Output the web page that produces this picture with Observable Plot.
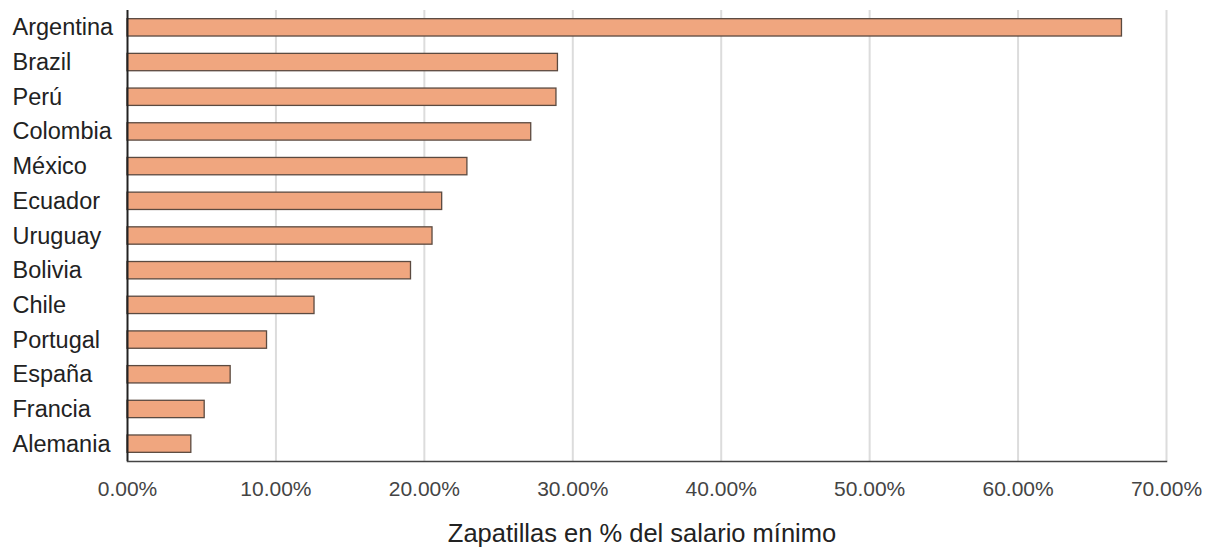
<!DOCTYPE html>
<html>
<head>
<meta charset="utf-8">
<script src="https://cdn.jsdelivr.net/npm/d3@7"></script>
<script src="https://cdn.jsdelivr.net/npm/@observablehq/plot@0.6"></script>
<style>
  html, body { margin: 0; padding: 0; background: #fff; }
  #chart svg { display: block; }
</style>
</head>
<body>
<div id="chart"></div>
<script>
const countries = ["Argentina", "Brazil", "Perú", "Colombia", "México", "Ecuador", "Uruguay", "Bolivia", "Chile", "Portugal", "España", "Francia", "Alemania"];
const values = [67.0, 29.0, 28.9, 27.2, 22.9, 21.2, 20.55, 19.1, 12.6, 9.4, 6.95, 5.2, 4.3];
const xTicks = [0, 10, 20, 30, 40, 50, 60, 70];
const xTitle = "Zapatillas en % del salario mínimo";

const data = countries.map((c, i) => ({country: c, value: values[i]}));

const chart = Plot.plot({
  width: 1214,
  height: 548,
  marginTop: 10,
  marginBottom: 87,
  marginLeft: 127,
  marginRight: 48,
  style: {fontFamily: "Liberation Sans, Arial, sans-serif", background: "#fff"},
  x: {domain: [0, 70], axis: null},
  y: {domain: countries, paddingInner: 0.5, paddingOuter: 0.25, round: false, axis: null},
  marks: [
    Plot.ruleX(xTicks.slice(1), {stroke: "#dcdcdc", strokeWidth: 2}),
    Plot.barX(data, {x: "value", y: "country", fill: "#f0a67f", stroke: "#5b4a40", strokeWidth: 1.3}),
    Plot.ruleX([0], {stroke: "#222", strokeWidth: 2}),
    Plot.frame({anchor: "bottom", stroke: "#444", strokeWidth: 1.5}),
    Plot.axisX(xTicks, {tickSize: 0, tickPadding: 20, fontSize: 21, fill: "#444", label: null, tickFormat: d => d.toFixed(2) + "%"}),
    Plot.text(data, {y: "country", text: "country", frameAnchor: "left", textAnchor: "start", dx: -115, fontSize: 23.5, fill: "#222"}),
    Plot.text([xTitle], {text: d => d, frameAnchor: "bottom", lineAnchor: "bottom", dy: 80, dx: -5, fontSize: 25.5, fill: "#222"})
  ]
});
document.getElementById("chart").appendChild(chart);
</script>
</body>
</html>
